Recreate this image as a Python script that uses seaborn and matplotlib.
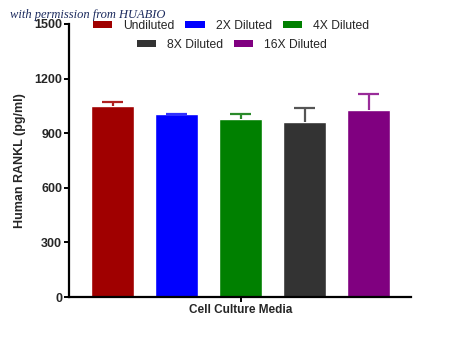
import matplotlib
matplotlib.use("Agg")
import matplotlib.pyplot as plt
from matplotlib.patches import Patch
import seaborn as sns
import pandas as pd
import numpy as np

# Sample dilutions measured in cell culture media
series = ["Undiluted", "2X Diluted", "4X Diluted", "8X Diluted", "16X Diluted"]
means = [1048, 1005, 979, 961, 1027]
sd = [24, 3, 29, 77, 89]
bar_colors = ["#A00000", "#0000FF", "#008000", "#333333", "#800080"]
err_colors = ["#B02020", "#3030FF", "#2A8A2A", "#555555", "#992C99"]
group_label = "Cell Culture Media"
y_ticks = [0, 300, 600, 900, 1200, 1500]

sns.set_style("white")
plt.rcParams["font.family"] = ["Liberation Sans", "DejaVu Sans"]

df = pd.DataFrame({"series": series, "mean": means})

fig = plt.figure(figsize=(4.5, 3.37), dpi=100)
ax = fig.add_axes([69 / 450, 1 - 297 / 337, 342 / 450, 273 / 337])

sns.barplot(data=df, x="series", y="mean", hue="series", order=series,
            hue_order=series, palette=bar_colors, width=0.67, dodge=False,
            legend=False, saturation=1, ax=ax, errorbar=None)

# Upper-only SD whiskers with caps
pos = np.arange(len(series))
cap_half = 0.16
for i in range(len(series)):
    top = means[i] + sd[i]
    ax.vlines(pos[i], means[i], top, colors=err_colors[i], linewidth=1.6,
              zorder=3)
    ax.hlines(top, pos[i] - cap_half, pos[i] + cap_half,
              colors=err_colors[i], linewidth=1.6, zorder=3)

ax.set_xlim(-0.68, 4.66)
ax.set_ylim(0, 1500)
ax.set_yticks(y_ticks)
ax.set_yticklabels([str(t) for t in y_ticks], fontweight="bold", fontsize=9)
ax.set_xticks([2])
ax.set_xticklabels([group_label], fontweight="bold", fontsize=8.5)
ax.set_xlabel("")
ax.set_ylabel("Human RANKL (pg/ml)", fontweight="bold", fontsize=9,
              labelpad=6)

for s in ["top", "right"]:
    ax.spines[s].set_visible(False)
for s in ["left", "bottom"]:
    ax.spines[s].set_linewidth(1.6)
    ax.spines[s].set_color("black")
ax.tick_params(axis="both", length=3.5, width=1.4, color="black", pad=1.5,
               left=True, bottom=True)

# Legend in two centred rows
handles = [Patch(facecolor=c, edgecolor="none") for c in bar_colors]
leg_kw = dict(frameon=False, fontsize=8.7, handlelength=1.6, handleheight=0.5,
              handletextpad=0.9, columnspacing=0.9, borderaxespad=0)
fig.legend(handles[:3], series[:3], ncol=3, loc="center",
           bbox_to_anchor=(231 / 450, 1 - 26 / 337), **leg_kw)
fig.legend(handles[3:], series[3:], ncol=2, loc="center",
           bbox_to_anchor=(232 / 450, 1 - 45 / 337), **leg_kw)

fig.text(10 / 450, 1 - 15 / 337, "with permission from HUABIO",
         fontsize=9, style="italic", family="Liberation Serif",
         color="#1C2B5E", va="center", ha="left")

fig.savefig("out.png", dpi=100)
